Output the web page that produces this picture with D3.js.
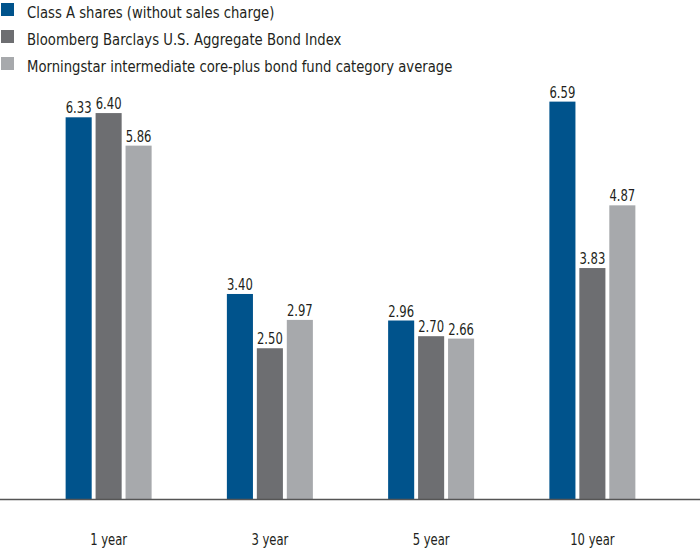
<!DOCTYPE html>
<html>
<head>
<meta charset="utf-8">
<script src="https://cdn.jsdelivr.net/npm/d3@7"></script>
<style>
  html, body { margin: 0; padding: 0; background: #fff; }
  svg text { font-family: "DejaVu Sans Condensed", "DejaVu Sans", sans-serif; fill: #231f20; }
</style>
</head>
<body>
<svg id="chart" width="700" height="552"></svg>
<script>
const categories = ["1 year", "3 year", "5 year", "10 year"];
const seriesNames = [
  "Class A shares (without sales charge)",
  "Bloomberg Barclays U.S. Aggregate Bond Index",
  "Morningstar intermediate core-plus bond fund category average"
];
const classA = [6.33, 3.40, 2.96, 6.59];
const bbIndex = [6.40, 2.50, 2.70, 3.83];
const morningstar = [5.86, 2.97, 2.66, 4.87];
const colors = ["#00538c", "#6d6e71", "#a7a9ac"];

const seriesValues = [classA, bbIndex, morningstar];

const svg = d3.select("#chart");
const baseY = 499;

function condense(sel, f) {
  sel.each(function() {
    const len = this.getComputedTextLength();
    d3.select(this).attr("textLength", len * f).attr("lengthAdjust", "spacingAndGlyphs");
  });
}

const x0 = d3.scaleBand().domain(categories).range([28, 673]).padding(0);
const x1 = d3.scaleBand().domain(d3.range(seriesNames.length))
  .range([x0.bandwidth() / 2 - 43, x0.bandwidth() / 2 + 43]).paddingInner(0.13);
const y = d3.scaleLinear().domain([0, 7]).range([baseY, baseY - 7 * 60.3]);

// Legend
const legend = svg.append("g");
seriesNames.forEach((name, i) => {
  const g = legend.append("g").attr("transform", `translate(0, ${i * 27})`);
  g.append("rect").attr("x", 1).attr("y", 3).attr("width", 13).attr("height", 13).attr("fill", colors[i]);
  g.append("text").attr("x", 27).attr("y", 17.5).attr("font-size", 16.5).text(name).call(condense, 0.89);
});

// Bars
const groups = svg.selectAll("g.grp").data(categories).enter().append("g")
  .attr("class", "grp")
  .attr("transform", d => `translate(${x0(d)},0)`);

groups.each(function(cat, ci) {
  const g = d3.select(this);
  seriesValues.forEach((vals, si) => {
    const v = vals[ci];
    g.append("rect")
      .attr("x", x1(si))
      .attr("y", y(v))
      .attr("width", x1.bandwidth())
      .attr("height", y(0) - y(v))
      .attr("fill", colors[si]);
    g.append("text")
      .attr("x", x1(si) + x1.bandwidth() / 2)
      .attr("y", y(v) - 4)
      .attr("text-anchor", "middle")
      .attr("font-size", 15)
      .text(v.toFixed(2))
      .call(condense, 0.86);
  });
});

// Baseline axis
svg.append("line").attr("x1", 0).attr("x2", 700).attr("y1", baseY + 0.5).attr("y2", baseY + 0.5)
  .attr("stroke", "#555").attr("stroke-width", 1.5);

// Category labels
const xAxis = d3.axisBottom(x0).tickSize(0).tickPadding(0);
const ax = svg.append("g").attr("transform", `translate(0, ${baseY})`).call(xAxis);
ax.select(".domain").remove();
ax.selectAll("text").attr("font-size", 15).attr("dy", null).attr("y", 46)
  .style("font-family", "'DejaVu Sans Condensed', 'DejaVu Sans', sans-serif").attr("fill", "#231f20")
  .call(condense, 0.86);
</script>
</body>
</html>
